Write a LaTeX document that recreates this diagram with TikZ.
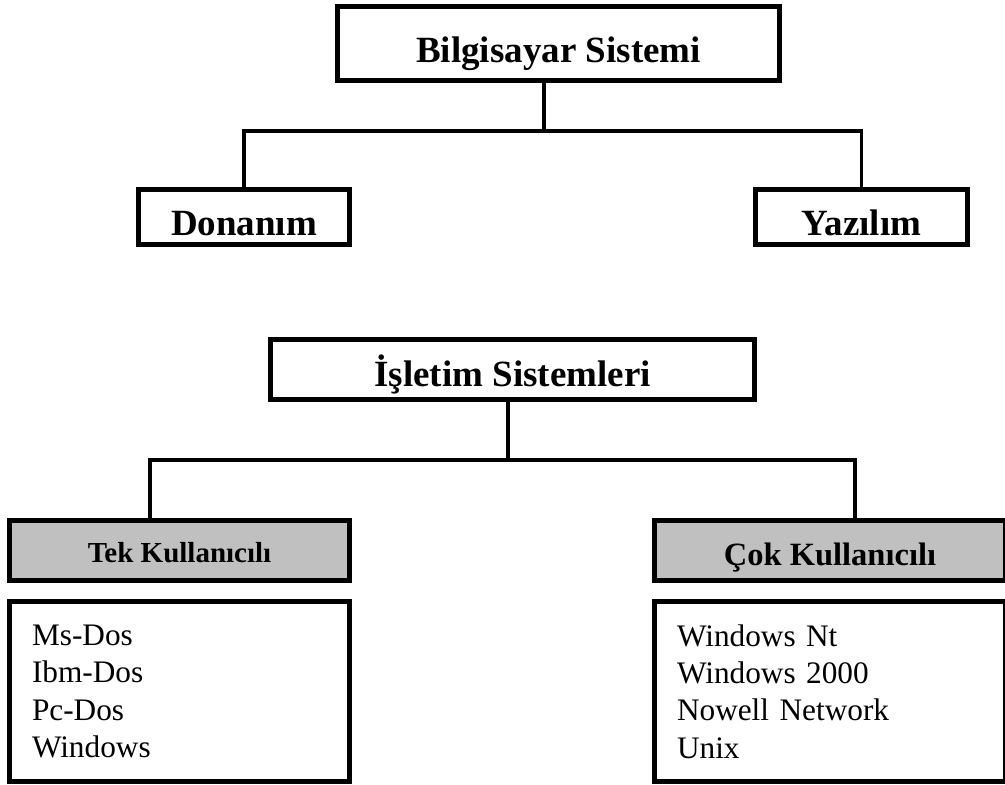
\documentclass[tikz,border=0pt]{standalone}
\usepackage{fontspec}
\setmainfont{Liberation Serif}
\definecolor{boxgray}{RGB}{192,192,192}
\tikzset{
  box/.style={draw, line width=5pt, fill=white, inner sep=0pt,
    text height=36pt, text depth=0pt,
    font=\fontsize{37}{44}\selectfont\bfseries},
  graybox/.style={draw, line width=5pt, fill=boxgray, inner sep=0pt,
    minimum height=60pt, text depth=0pt},
  listbox/.style={draw, line width=5pt, inner xsep=22.5pt, inner ysep=0pt,
    align=left, minimum height=180pt,
    font=\fontsize{31.3}{37.3}\selectfont},
  conn/.style={line width=3.8pt}
}

\begin{document}
\begin{tikzpicture}[x=1pt, y=-1pt]
    \useasboundingbox (0,0) rectangle (1005,785);
    % Upper tree: computer system
    \node[box, minimum width=442pt, minimum height=74pt, text height=37pt] (sys) at (558.5,43.5) {Bilgisayar Sistemi};
    \node[box, minimum width=211pt, minimum height=55pt] (don) at (244,217) {Donanım};
    \node[box, minimum width=212pt, minimum height=55pt] (yaz) at (861.5,217) {Yazılım};
    \coordinate (j1) at (544,131);
    \draw[conn] (sys.south -| j1) -- (j1);
    \draw[conn] (don.north) |- (j1) -| (yaz.north);
    % Lower tree: operating systems
    \node[box, minimum width=484pt, minimum height=60pt, text height=33pt] (os) at (512.5,369.5) {İşletim Sistemleri};
    \node[graybox, minimum width=340pt, text height=23pt,
      font=\fontsize{29}{35}\selectfont\bfseries] (tek) at (179.5,550.5) {Tek Kullanıcılı};
    \node[graybox, minimum width=351pt, text height=29pt,
      font=\fontsize{32.5}{39}\selectfont\bfseries] (cok) at (830,550.5) {Çok Kullanıcılı};
    \coordinate (j2) at (508,460);
    \coordinate (tl) at (150,460);
    \coordinate (tr) at (855,460);
    \draw[conn] (os.south -| j2) -- (j2);
    \draw[conn] (tek.north -| tl) |- (tr) -- (cok.north -| tr);
    % Lists
    \node[listbox, text width=295pt] (tekl) at (179.5,691.5)
      {Ms-Dos\\Ibm-Dos\\Pc-Dos\\Windows};
    \node[listbox, text width=306pt] (cokl) at (830,691.5)
      {Windows Nt\\Windows 2000\\Nowell Network\\Unix};
\end{tikzpicture}
\end{document}
